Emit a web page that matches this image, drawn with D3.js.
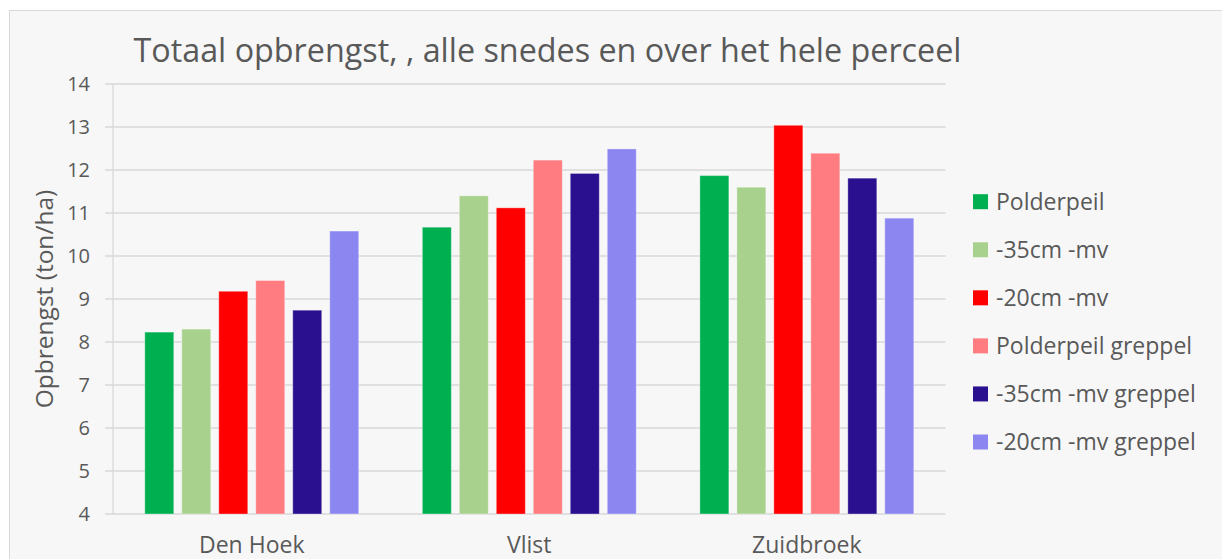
<!DOCTYPE html>
<html>
<head>
<meta charset="utf-8">
<script src="https://cdn.jsdelivr.net/npm/d3@7"></script>
<style>
  html, body { margin: 0; padding: 0; background: #ffffff; }
  svg { display: block; }
  text { font-family: "Open Sans", "Noto Sans", sans-serif; fill: #595959; }
</style>
</head>
<body>
<svg id="chart" width="1222" height="559"></svg>
<script>
const title = "Totaal opbrengst, , alle snedes en over het hele perceel";
const yAxisTitle = "Opbrengst (ton/ha)";
const categories = ["Den Hoek", "Vlist", "Zuidbroek"];
const seriesNames = ["Polderpeil", "-35cm -mv", "-20cm -mv", "Polderpeil greppel", "-35cm -mv greppel", "-20cm -mv greppel"];
const seriesColors = ["#00b050", "#a9d18e", "#ff0000", "#ff7c80", "#2a0f8f", "#8b86f0"];
const polderpeil = [8.23, 10.67, 11.87];
const min35 = [8.30, 11.40, 11.60];
const min20 = [9.18, 11.12, 13.04];
const polderpeilGreppel = [9.43, 12.23, 12.39];
const min35Greppel = [8.74, 11.92, 11.81];
const min20Greppel = [10.58, 12.49, 10.88];
const yTicks = [4, 5, 6, 7, 8, 9, 10, 11, 12, 13, 14];

const seriesValues = [polderpeil, min35, min20, polderpeilGreppel, min35Greppel, min20Greppel];

const svg = d3.select("#chart");
const plot = { left: 113, right: 945.6, top: 84, bottom: 514 };

// chart area background
svg.append("rect")
  .attr("x", 9.5).attr("y", 10.5)
  .attr("width", 1240).attr("height", 600)
  .attr("fill", "#f7f7f7")
  .attr("stroke", "#d9d9d9").attr("stroke-width", 1);

const y = d3.scaleLinear().domain([4, 14]).range([plot.bottom, plot.top]);
const x0 = d3.scaleBand().domain(categories).range([plot.left, plot.right]).padding(0);
const groupPad = 31.8;
const x1 = d3.scaleBand().domain(seriesNames)
  .range([groupPad, x0.bandwidth() - groupPad])
  .paddingInner(0.216).paddingOuter(0);

// gridlines
svg.append("g").selectAll("line").data(yTicks).join("line")
  .attr("x1", plot.left - 8).attr("x2", plot.right)
  .attr("y1", d => y(d)).attr("y2", d => y(d))
  .attr("stroke", "#d9d9d9").attr("stroke-width", 1.3);

// vertical axis line
svg.append("line")
  .attr("x1", plot.left).attr("x2", plot.left)
  .attr("y1", plot.top).attr("y2", plot.bottom)
  .attr("stroke", "#d9d9d9").attr("stroke-width", 1.3);

// y tick labels
svg.append("g").selectAll("text").data(yTicks).join("text")
  .attr("x", 90).attr("y", d => y(d) + 7)
  .attr("text-anchor", "end")
  .style("font-size", "20px")
  .text(d => d);

// bars
const groups = svg.append("g").selectAll("g").data(categories).join("g")
  .attr("transform", c => `translate(${x0(c)},0)`);
groups.selectAll("rect")
  .data((c, ci) => seriesNames.map((s, si) => ({ s, si, v: seriesValues[si][ci] })))
  .join("rect")
  .attr("x", d => x1(d.s))
  .attr("width", x1.bandwidth())
  .attr("y", d => y(d.v))
  .attr("height", d => y(4) - y(d.v))
  .attr("fill", d => seriesColors[d.si])
  .attr("stroke", "#ffffff").attr("stroke-opacity", 0.35).attr("stroke-width", 1);

// x labels
svg.append("g").selectAll("text").data(categories).join("text")
  .attr("x", c => x0(c) + x0.bandwidth() / 2)
  .attr("y", 553)
  .attr("text-anchor", "middle")
  .style("font-size", "23px")
  .text(c => c);

// title
svg.append("text")
  .attr("x", 547.5).attr("y", 61.7)
  .attr("text-anchor", "middle")
  .style("font-size", "32.3px")
  .text(title);

// y axis title
svg.append("text")
  .attr("transform", "translate(53,299) rotate(-90)")
  .attr("text-anchor", "middle")
  .style("font-size", "24.5px")
  .text(yAxisTitle);

// legend
const legend = svg.append("g").selectAll("g").data(seriesNames).join("g")
  .attr("transform", (d, i) => `translate(973,${201.7 + i * 48.06})`);
legend.append("rect")
  .attr("x", 0).attr("y", -7.5).attr("width", 15).attr("height", 15)
  .attr("fill", (d, i) => seriesColors[i]);
legend.append("text")
  .attr("x", 23).attr("y", 8.3)
  .style("font-size", "23px")
  .text(d => d);
</script>
</body>
</html>
